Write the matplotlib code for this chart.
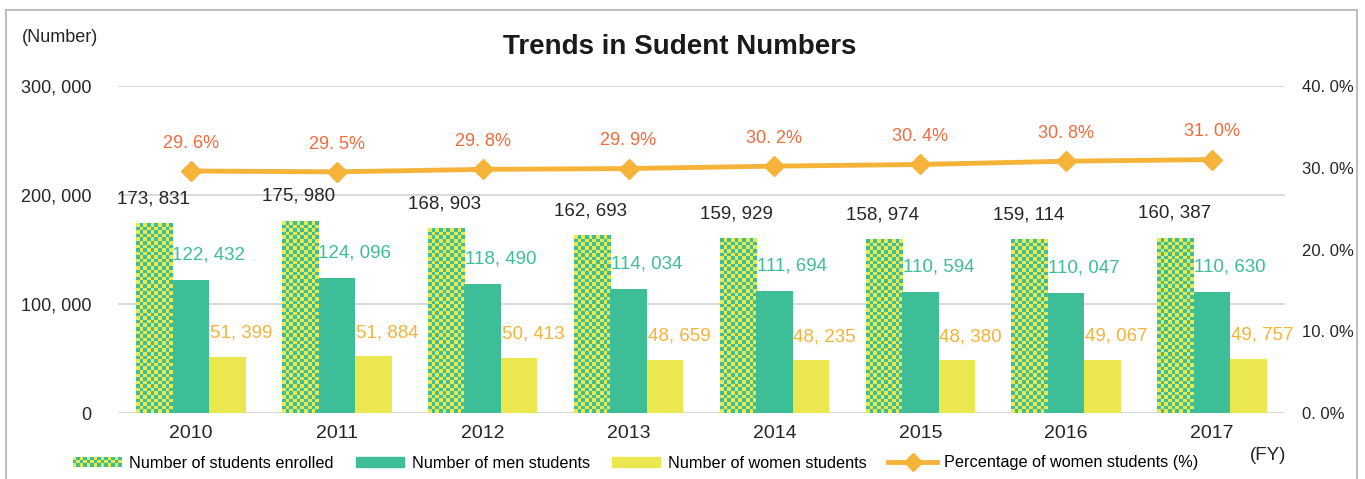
import numpy as np
import matplotlib
matplotlib.use("Agg")
import matplotlib.pyplot as plt
from matplotlib.colors import ListedColormap
from matplotlib.patches import Rectangle
from matplotlib.lines import Line2D
from matplotlib.legend_handler import HandlerBase

# data
years = ["2010", "2011", "2012", "2013", "2014", "2015", "2016", "2017"]
enrolled = [173831, 175980, 168903, 162693, 159929, 158974, 159114, 160387]
men = [122432, 124096, 118490, 114034, 111694, 110594, 110047, 110630]
women = [51399, 51884, 50413, 48659, 48235, 48380, 49067, 49757]
pct_women = [29.6, 29.5, 29.8, 29.9, 30.2, 30.4, 30.8, 31.0]

GREEN = "#3dbe97"
YELLOW = "#ebe84f"
ORANGE = "#f5b33a"
PCT_RED = "#f26b3d"
DARK = "#262626"

W, H = 1365, 479
plt.rcParams["font.family"] = ["Liberation Sans", "DejaVu Sans"]


def fmt_thousands(v):
    return f"{v:,}".replace(",", ", ")


def fmt_pct(v):
    return f"{v:.1f}".replace(".", ". ") + "%"


class CheckerHandler(HandlerBase):
    def create_artists(self, legend, orig_handle, xdescent, ydescent,
                       width, height, fontsize, trans):
        nx = 14
        cw = width / nx
        ny = max(1, int(round(height / cw)))
        ch = height / ny
        out = []
        for i in range(nx):
            for j in range(ny):
                c = GREEN if (i + j) % 2 else YELLOW
                out.append(Rectangle((-xdescent + i * cw, -ydescent + j * ch), cw, ch,
                                     facecolor=c, edgecolor="none", transform=trans))
        return out


fig = plt.figure(figsize=(W / 100, H / 100), dpi=100)
ax = fig.add_axes([118 / W, 1 - 413 / H, (1285 - 118) / W, (413 - 86) / H])

x = np.arange(len(years))
bw = 0.25

# enrolled bars: yellow/green checker
cmap = ListedColormap([YELLOW, GREEN])
px_per_x = (1285 - 118) / len(years)
px_per_y = (413 - 86) / 300000
cell = 3.6
for xi, v in zip(x, enrolled):
    x0, x1 = xi - bw * 1.5, xi - bw * 0.5
    cols = max(1, int(round(bw * px_per_x / cell)))
    rows = max(1, int(round(v * px_per_y / cell)))
    board = (np.add.outer(np.arange(rows), np.arange(cols)) % 2).astype(float)
    ax.imshow(board, extent=(x0, x1, 0, v), origin="lower", aspect="auto",
              interpolation="nearest", cmap=cmap, vmin=0, vmax=1, zorder=2)
ax.bar(x, men, width=bw, color=GREEN, zorder=2)
ax.bar(x + bw, women, width=bw, color=YELLOW, zorder=2)
ax.set_xlim(-0.5, len(years) - 0.5)
ax.set_ylim(0, 300000)
ax.set_aspect("auto")

for xi, v in zip(x, enrolled):
    ax.annotate(fmt_thousands(v), (xi - bw, v), xytext=(-1, 18), textcoords="offset points",
                ha="center", va="center", fontsize=13.5, color=DARK)
for xi, v in zip(x, men):
    ax.annotate(fmt_thousands(v), (xi, v), xytext=(13, 18), textcoords="offset points",
                ha="center", va="center", fontsize=13.5, color=GREEN)
for xi, v in zip(x, women):
    ax.annotate(fmt_thousands(v), (xi + bw, v), xytext=(10, 17), textcoords="offset points",
                ha="center", va="center", fontsize=13.5, color=ORANGE)

yt = [0, 100000, 200000, 300000]
ax.set_yticks(yt)
ax.set_yticklabels(["0" if t == 0 else fmt_thousands(t) for t in yt])
ax.set_xticks(x)
ax.set_xticklabels(years)
ax.tick_params(axis="y", length=0, pad=19, labelsize=13, labelcolor=DARK)
ax.tick_params(axis="x", length=0, pad=9, labelsize=14, labelcolor=DARK)
ax.grid(axis="y", color="#d9d9d9", lw=1.4, zorder=0)
ax.set_axisbelow(True)
for s in ax.spines.values():
    s.set_visible(False)

# percentage line
ax2 = ax.twinx()
ax2.set_ylim(0, 40)
pt = [0, 10, 20, 30, 40]
ax2.set_yticks(pt)
ax2.set_yticklabels([fmt_pct(t) for t in pt])
ax2.tick_params(axis="y", length=0, pad=12, labelsize=12, labelcolor=DARK)
for s in ax2.spines.values():
    s.set_visible(False)
ax2.plot(x, pct_women, color=ORANGE, lw=3.5, marker="D", ms=10.5, zorder=3)
for xi, p in zip(x, pct_women):
    ax2.annotate(fmt_pct(p), (xi, p), xytext=(0, 20),
                 textcoords="offset points", ha="center", va="center",
                 fontsize=13, color=PCT_RED)

# texts
fig.text(680 / W, 1 - 47 / H, "Trends in Sudent Numbers", ha="center", va="center",
         fontsize=20, weight="bold", color="#1a1a1a")
fig.text(22 / W, 1 - 38 / H, "(Number)", ha="left", va="center", fontsize=13, color=DARK)
fig.text(1268 / W, 1 - 455 / H, "(FY)", ha="center", va="center", fontsize=13.5, color=DARK)

# legend
checker_proxy = Rectangle((0, 0), 1, 1)
handles = [checker_proxy,
           Rectangle((0, 0), 1, 1, color=GREEN),
           Rectangle((0, 0), 1, 1, color=YELLOW),
           Line2D([], [], color=ORANGE, lw=3.5, marker="D", ms=9)]
labels = ["Number of students enrolled", "Number of men students",
          "Number of women students", "Percentage of women students (%)"]
fig.legend(handles, labels, handler_map={checker_proxy: CheckerHandler()},
           loc="center left", bbox_to_anchor=(73 / W, 1 - 463 / H), ncol=4,
           frameon=False, fontsize=11.7, handlelength=3.0, handleheight=0.6,
           handletextpad=0.45, columnspacing=1.35, borderpad=0, borderaxespad=0)

# outer frame
fig.add_artist(Rectangle((6 / W, -0.1), (1357 - 6) / W, 0.1 + (H - 10) / H,
                         transform=fig.transFigure, fill=False,
                         edgecolor="#bfbfbf", lw=1.5, clip_on=False))

fig.savefig("out.png", dpi=100)
